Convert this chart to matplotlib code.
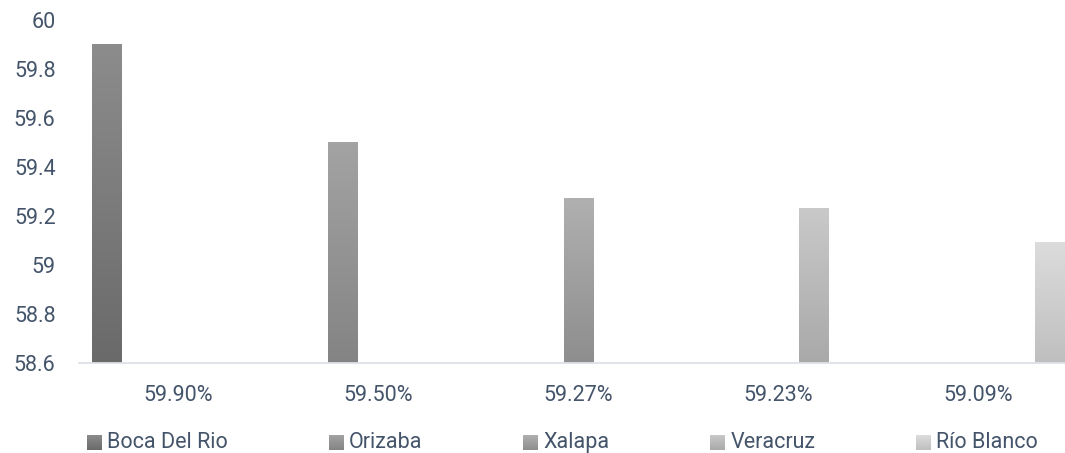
import numpy as np
import matplotlib
matplotlib.use("Agg")
import matplotlib.pyplot as plt
from matplotlib.colors import to_rgb
from matplotlib.ticker import FuncFormatter

# ---------------- data ----------------
categories = ["59.90%", "59.50%", "59.27%", "59.23%", "59.09%"]
series_names = ["Boca Del Rio", "Orizaba", "Xalapa", "Veracruz", "Río Blanco"]
nan = np.nan
boca_del_rio = [59.90, nan, nan, nan, nan]
orizaba = [nan, 59.50, nan, nan, nan]
xalapa = [nan, nan, 59.27, nan, nan]
veracruz = [nan, nan, nan, 59.23, nan]
rio_blanco = [nan, nan, nan, nan, 59.09]
series_values = [boca_del_rio, orizaba, xalapa, veracruz, rio_blanco]
y_ticks = [58.6, 58.8, 59.0, 59.2, 59.4, 59.6, 59.8, 60.0]

# ---------------- style ----------------
top_colors = ["#8c8c8c", "#a3a3a3", "#b0b0b0", "#c9c9c9", "#dcdcdc"]
bottom_colors = ["#6a6a6a", "#848484", "#8e8e8e", "#a9a9a9", "#bfbfbf"]
text_color = "#44546A"
FONT = ["Roboto", "DejaVu Sans"]
FS = 15.5

plt.rcParams["font.family"] = FONT

W, H = 1065, 453
fig = plt.figure(figsize=(W / 100, H / 100), dpi=100)
fig.patch.set_facecolor("white")

ax_left, ax_right = 78.5, 1078.5
ax_top, ax_bottom = 20, 363
ax = fig.add_axes([ax_left / W, (H - ax_bottom) / H,
                   (ax_right - ax_left) / W, (ax_bottom - ax_top) / H])


def gradient(top, bottom, n=64):
    t = np.linspace(0, 1, n)[:, None]
    a = np.array(to_rgb(top))[None, :]
    b = np.array(to_rgb(bottom))[None, :]
    return (a * (1 - t) + b * t)[:, None, :]


x = np.arange(len(categories))
step = 0.178
bar_w = 0.15
y_min, y_max = y_ticks[0], y_ticks[-1]
n_series = len(series_names)

for j, vals in enumerate(series_values):
    vals = np.array(vals, dtype=float)
    offs = (j - (n_series - 1) / 2) * step
    bars = ax.bar(x + offs, vals - y_min, bar_w, bottom=y_min,
                  color=bottom_colors[j], linewidth=0, zorder=2)
    for b in bars:
        h = b.get_height()
        if not np.isfinite(h):
            continue
        x0, y0, w = b.get_x(), b.get_y(), b.get_width()
        ax.imshow(gradient(top_colors[j], bottom_colors[j]),
                  extent=(x0, x0 + w, y0, y0 + h), origin="upper",
                  aspect="auto", interpolation="bilinear", zorder=3)

ax.set_xlim(-0.5, len(categories) - 0.5)
ax.set_ylim(y_min, y_max)
ax.set_xticks(x)
ax.set_xticklabels(categories)
ax.set_yticks(y_ticks)
ax.yaxis.set_major_formatter(FuncFormatter(lambda v, p: f"{v:g}"))
ax.tick_params(axis="y", length=0, pad=16.5, labelsize=FS, labelcolor=text_color)
ax.tick_params(axis="x", length=0, pad=16, labelsize=FS, labelcolor=text_color)
for s in ["top", "right", "left"]:
    ax.spines[s].set_visible(False)
ax.spines["bottom"].set_color("#dde1e7")
ax.spines["bottom"].set_linewidth(1.3)
ax.spines["bottom"].set_zorder(4)
ax.set_facecolor("none")

# ---------------- legend (manual, pixel coordinates) ----------------
lax = fig.add_axes([0, 0, 1, 1], zorder=5)
lax.set_xlim(0, W)
lax.set_ylim(H, 0)
lax.axis("off")
lax.patch.set_alpha(0)

renderer = fig.canvas.get_renderer()
sq = 15
cy = 442.5
pos = 87
gap = 101
pad = 5
for j, name in enumerate(series_names):
    lax.imshow(gradient(top_colors[j], bottom_colors[j]),
               extent=(pos, pos + sq, cy + sq / 2, cy - sq / 2), origin="upper",
               aspect="auto", interpolation="bilinear")
    t = lax.text(pos + sq + pad, cy, name, ha="left", va="center",
                 fontsize=FS, color=text_color)
    bb = t.get_window_extent(renderer)
    pos = pos + sq + pad + bb.width + gap

lax.set_xlim(0, W)
lax.set_ylim(H, 0)

fig.savefig("out.png", dpi=100, facecolor="white")
